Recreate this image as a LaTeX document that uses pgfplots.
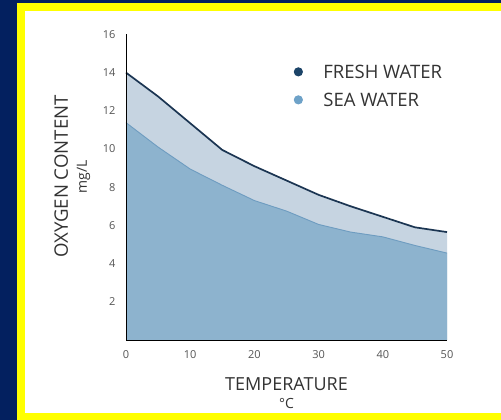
\documentclass[border=0pt]{standalone}
\usepackage{fontspec}
\setmainfont{Open Sans}
\usepackage{pgfplots}
\pgfplotsset{compat=1.18}

\definecolor{navybg}{HTML}{03205F}
\definecolor{frameyellow}{HTML}{FFFF00}
\definecolor{freshfill}{HTML}{C6D4E1}
\definecolor{seafill}{HTML}{8DB3CE}
\definecolor{freshline}{HTML}{1B3552}
\definecolor{sealine}{HTML}{6E9CC0}
\definecolor{freshdot}{HTML}{1C4468}
\definecolor{seadot}{HTML}{6EA2C8}
\definecolor{labelgray}{HTML}{333333}
\definecolor{tickgray}{HTML}{555555}

\begin{document}
\begin{tikzpicture}[x=1pt,y=1pt]
% frame: navy, yellow, white
\fill[navybg] (0,0) rectangle (501,420);
\fill[frameyellow] (17,0) rectangle (520,417);
\fill[white] (25,7) rectangle (520,409);

\begin{axis}[
  at={(126pt,80pt)}, anchor=south west,
  x=6.42pt, y=19.1pt,
  xmin=0, xmax=50, ymin=0, ymax=16,
  axis lines=left,
  axis line style={black, line width=0.9pt, -},
  axis on top,
  clip=false,
  xtick={0,10,...,50},
  ytick={2,4,...,16},
  major tick length=0pt,
  /pgf/number format/assume math mode=true,
  tick label style={font=\fontsize{11}{13}\selectfont, text=tickgray},
  yticklabel style={xshift=-7pt},
  xticklabel style={yshift=-7pt},
  xlabel={TEMPERATURE\\{\fontsize{14}{18}\selectfont °C}},
  xlabel style={align=center, text=labelgray, inner sep=0pt,
    font=\fontsize{18}{18}\selectfont,
    at={(axis description cs:0.5,0)}, anchor=north, yshift=-37pt},
  ylabel={OXYGEN CONTENT\\{\fontsize{14}{19}\selectfont mg/L}},
  ylabel style={align=center, text=labelgray, inner sep=0pt,
    font=\fontsize{18.6}{19}\selectfont,
    at={(axis description cs:0,0.535)}, anchor=south, yshift=35.5pt},
  legend style={at={(axis cs:26.1,14.39)}, anchor=north west,
    draw=none, fill=none, inner sep=0pt, row sep=15pt,
    font=\fontsize{18.5}{20}\selectfont, text=labelgray,
    nodes={inner sep=0pt, text height=13pt, text depth=0pt}},
  legend cell align=left,
  legend image code/.code={
    \fill[#1] (0pt,0pt) circle (4.6pt);
    \path[fill=none, draw=none] (-4.5pt,-4.5pt) rectangle (25pt,4.5pt);},
]
% fresh water area and sea water area
\addplot[fill=freshfill, draw=none, forget plot] coordinates {
  (0,14.0) (5,12.75) (10,11.35) (15,9.95) (20,9.1) (25,8.35)
  (30,7.6) (35,7.0) (40,6.45) (45,5.9) (50,5.65)} \closedcycle;
\addplot[fill=seafill, draw=none, forget plot] coordinates {
  (0,11.38) (5,10.1) (10,8.95) (15,8.1) (20,7.3) (25,6.75)
  (30,6.05) (35,5.65) (40,5.4) (45,4.95) (50,4.55)} \closedcycle;
\addplot[sealine, line width=0.9pt, forget plot] coordinates {
  (0,11.38) (5,10.1) (10,8.95) (15,8.1) (20,7.3) (25,6.75)
  (30,6.05) (35,5.65) (40,5.4) (45,4.95) (50,4.55)};
\addplot[freshline, line width=1.7pt, forget plot] coordinates {
  (0,14.0) (5,12.75) (10,11.35) (15,9.95) (20,9.1) (25,8.35)
  (30,7.6) (35,7.0) (40,6.45) (45,5.9) (50,5.65)};
\addlegendimage{fill=freshdot, draw=none}
\addlegendentry{FRESH WATER}
\addlegendimage{fill=seadot, draw=none}
\addlegendentry{SEA WATER}
\end{axis}
\pgfresetboundingbox
\useasboundingbox (0,0) rectangle (501,420);
\end{tikzpicture}
\end{document}
